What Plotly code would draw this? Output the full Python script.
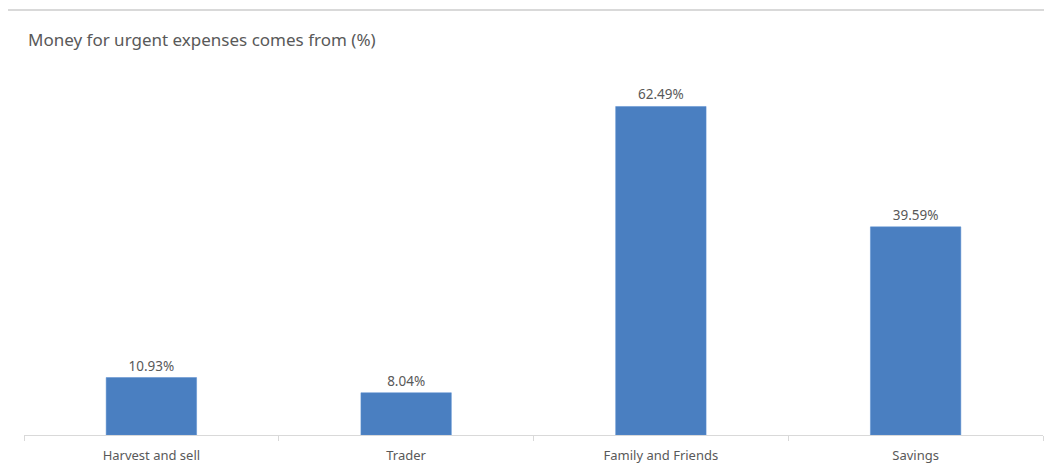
import plotly.graph_objects as go

categories = ["Harvest and sell", "Trader", "Family and Friends", "Savings"]
values = [10.93, 8.04, 62.49, 39.59]
labels = ["10.93%", "8.04%", "62.49%", "39.59%"]

# page body has an 8px margin, so the figure is sized to fill the rest of the window
W, H = 1044, 460
ML, MR, MT, MB = 16, 9, 59, 33
fig = go.Figure(go.Bar(
    x=categories, y=values, text=labels, textposition="outside",
    marker=dict(color="#4a7fc1", line=dict(color="#5b8fd0", width=0.5)),
    textfont=dict(family="Noto Sans", size=13.5, color="#595959"),
    cliponaxis=False, width=0.355,
))
pw, ph = W - ML - MR, H - MT - MB
fig.update_layout(
    width=W, height=H,
    margin=dict(l=ML, r=MR, t=MT, b=MB, autoexpand=False),
    paper_bgcolor="white", plot_bgcolor="white",
    showlegend=False,
    font=dict(family="Noto Sans", color="#595959"),
    title=dict(text="Money for urgent expenses comes from (%)", x=20/W, xanchor="left",
               y=1-32/H, yanchor="middle", font=dict(size=17, color="#595959")),
    xaxis=dict(showline=True, linecolor="#d9d9d9", linewidth=1, ticks="outside",
               tickson="boundaries", tickcolor="#d9d9d9", ticklen=5,
               ticklabelstandoff=8,
               tickfont=dict(size=13, color="#595959"), showgrid=False),
    yaxis=dict(range=[0, 70], visible=False, showgrid=False),
    shapes=[dict(type="line", xref="paper", yref="paper", x0=-ML/pw, x1=1 + MR/pw,
                 y0=1 + (MT-2)/ph, y1=1 + (MT-2)/ph, line=dict(color="#d9d9d9", width=2))],
)
fig.write_html("out.html")
